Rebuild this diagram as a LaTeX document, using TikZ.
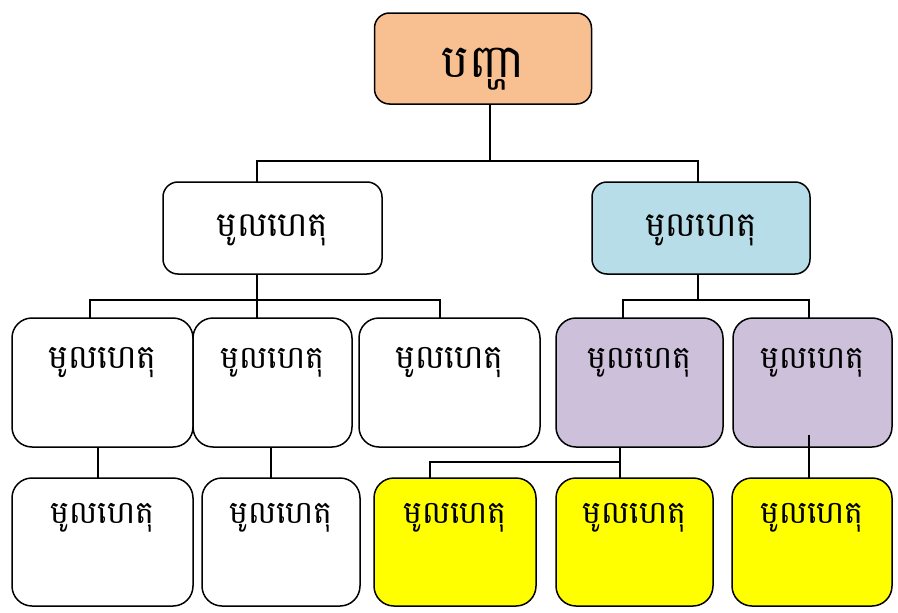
\documentclass[tikz,border=0pt]{standalone}
\usepackage{fontspec}
\newfontfamily\khmer[Script=Khmer]{Battambang}
\definecolor{cOrange}{RGB}{248,192,144}
\definecolor{cBlue}{RGB}{183,222,232}
\definecolor{cPurple}{RGB}{204,192,218}
\definecolor{cYellow}{RGB}{255,255,0}
\begin{document}
\begin{tikzpicture}[x=1pt,y=-1pt,
  box/.style={draw=black,line width=1.5pt,rounded corners=15pt,inner sep=0pt,outer sep=0pt},
  tallbox/.style={box,rounded corners=20pt},
  conn/.style={draw=black,line width=1.3pt},
  txt/.style={font=\khmer\fontsize{34}{38}\selectfont,inner sep=0pt,anchor=base},
  txtmd/.style={font=\khmer\fontsize{33}{37}\selectfont,inner sep=0pt,anchor=base},
  txtsm/.style={font=\khmer\fontsize{31.5}{36}\selectfont,inner sep=0pt,anchor=base},
  txtbig/.style={font=\khmer\fontsize{46}{50}\selectfont,inner sep=0pt,anchor=base}]
\useasboundingbox (0,0) rectangle (898,613);
% top
\node[box,fill=cOrange,minimum width=217pt,minimum height=91pt] (p) at (483,58.5) {};
\node[txtbig] (tp) at (483,77) {បញ្ហា};
% level 2
\node[box,fill=white,minimum width=219pt,minimum height=92pt] (l2a) at (272.5,228) {};
\node[box,fill=cBlue,minimum width=218pt,minimum height=92pt] (l2b) at (701,228) {};
\node[txt] (t2a) at (272.5,236) {មូលហេតុ};
\node[txt] (t2b) at (701,236) {មូលហេតុ};
% level 3
\node[tallbox,fill=white,minimum width=181pt,minimum height=129pt] (l3a) at (102.5,382.5) {};
\node[tallbox,fill=white,minimum width=159pt,minimum height=129pt] (l3b) at (272.5,382.5) {};
\node[tallbox,fill=white,minimum width=181pt,minimum height=129pt] (l3c) at (449.5,382.5) {};
\node[tallbox,fill=cPurple,minimum width=167pt,minimum height=129pt] (l3d) at (639.5,382.5) {};
\node[tallbox,fill=cPurple,minimum width=159pt,minimum height=129pt] (l3e) at (812.5,382.5) {};
\node[txtmd] (t3a) at (102.5,368) {មូលហេតុ};
\node[txtsm] (t3b) at (272.5,368) {មូលហេតុ};
\node[txtmd] (t3c) at (449.5,368) {មូលហេតុ};
\node[txtsm] (t3d) at (639.5,368) {មូលហេតុ};
\node[txtsm] (t3e) at (812.5,368) {មូលហេតុ};
% level 4
\node[tallbox,fill=white,minimum width=181pt,minimum height=128pt] (l4a) at (102.5,542) {};
\node[tallbox,fill=white,minimum width=158pt,minimum height=128pt] (l4b) at (281,542) {};
\node[tallbox,fill=cYellow,minimum width=162pt,minimum height=128pt] (l4c) at (455,542) {};
\node[tallbox,fill=cYellow,minimum width=157pt,minimum height=128pt] (l4d) at (634.5,542) {};
\node[tallbox,fill=cYellow,minimum width=160pt,minimum height=128pt] (l4e) at (812,542) {};
\node[txtsm] (t4a) at (102.5,523) {មូលហេតុ};
\node[txtsm] (t4b) at (281,523) {មូលហេតុ};
\node[txtsm] (t4c) at (455,523) {មូលហេតុ};
\node[txtsm] (t4d) at (634.5,523) {មូលហេតុ};
\node[txtsm] (t4e) at (812,523) {មូលហេតុ};
% bus coordinates
\coordinate (bus1) at (490,161);
\coordinate (bus2) at (257,300);
\coordinate (bus3) at (698,300);
\coordinate (bus4) at (620,462);
\coordinate (e5) at (809,435);
% connectors
\draw[conn] (p.south -| bus1) -- (bus1);
\draw[conn] (l2a.north -| 257,0) |- (bus1) -| (l2b.north -| 698,0);
\draw[conn] (l2a.south -| bus2) -- (bus2);
\draw[conn] (l3a.north -| 90,0) |- (bus2) -| (l3c.north -| 440,0);
\draw[conn] (bus2) -- (l3b.north -| bus2);
\draw[conn] (l2b.south -| bus3) -- (bus3);
\draw[conn] (l3d.north -| 623,0) |- (bus3) -| (l3e.north -| 809,0);
\draw[conn] (l3a.south -| 98,0) -- (l4a.north -| 98,0);
\draw[conn] (l3b.south -| 271,0) -- (l4b.north -| 271,0);
\draw[conn] (l3d.south -| bus4) -- (l4d.north -| bus4);
\draw[conn] (bus4) -| (l4c.north -| 430,0);
\draw[conn] (e5) -- (l4e.north -| e5);
\end{tikzpicture}
\end{document}
